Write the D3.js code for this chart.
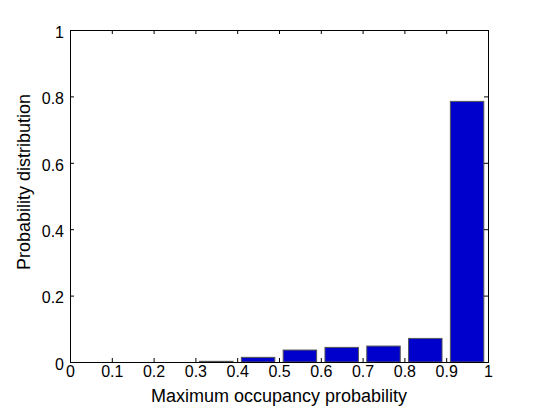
<!DOCTYPE html>
<html>
<head>
<meta charset="utf-8">
<script src="https://cdn.jsdelivr.net/npm/d3@7"></script>
<style>
  body { margin: 0; background: #fff; }
  text { font-family: "Liberation Sans", Arial, sans-serif; fill: #000; }
</style>
</head>
<body>
<div id="chart"></div>
<script>
// bin centres and probability of each bin
const binCenters = [0.05, 0.15, 0.25, 0.35, 0.45, 0.55, 0.65, 0.75, 0.85, 0.95];
const probs = [0, 0, 0, 0.002, 0.014, 0.036, 0.044, 0.048, 0.071, 0.785];
const xTicks = [0, 0.1, 0.2, 0.3, 0.4, 0.5, 0.6, 0.7, 0.8, 0.9, 1];
const yTicks = [0, 0.2, 0.4, 0.6, 0.8, 1];

const width = 539, height = 407;
const margin = {top: 30, right: 51, bottom: 45, left: 70};
const w = width - margin.left - margin.right;
const h = height - margin.top - margin.bottom;

const svg = d3.select("#chart").append("svg")
    .attr("width", width)
    .attr("height", height);

const g = svg.append("g")
    .attr("transform", "translate(" + margin.left + "," + margin.top + ")");

const x = d3.scaleLinear().domain([0, 1]).range([0, w]);
const y = d3.scaleLinear().domain([0, 1]).range([h, 0]);

const barW = (x(0.1) - x(0)) * 0.8;

g.selectAll("rect.bar")
    .data(probs.map((p, i) => ({c: binCenters[i], p: p})).filter(d => d.p > 0))
    .enter()
    .append("rect")
    .attr("class", "bar")
    .attr("x", d => x(d.c) - barW / 2)
    .attr("y", d => y(d.p))
    .attr("width", barW)
    .attr("height", d => y(0) - y(d.p))
    .attr("fill", "#0000cc")
    .attr("stroke", "#555")
    .attr("stroke-width", 1);

// axes, matlab style ticks pointing inwards
const fs = "16px";
const xAxis = g.append("g").attr("transform", "translate(0," + h + ")")
    .call(d3.axisBottom(x).tickValues(xTicks).tickSize(-4).tickPadding(4).tickFormat(d3.format("")));
const yAxis = g.append("g")
    .call(d3.axisLeft(y).tickValues(yTicks).tickSize(-4).tickPadding(6).tickFormat(d3.format("")));
const xTop = g.append("g")
    .call(d3.axisTop(x).tickValues(xTicks).tickSize(-4).tickFormat(""));
const yRight = g.append("g").attr("transform", "translate(" + w + ",0)")
    .call(d3.axisRight(y).tickValues(yTicks).tickSize(-4).tickFormat(""));

[xAxis, yAxis, xTop, yRight].forEach(a => {
    a.select(".domain").attr("stroke", "#000");
    a.selectAll(".tick line").attr("stroke", "#000");
    a.selectAll("text").style("font-size", fs).attr("font-family", null);
});
xAxis.selectAll("text").attr("dy", "0.71em");
yAxis.selectAll("text").attr("dy", "0.45em");

g.append("text")
    .attr("x", w / 2)
    .attr("y", h + 40)
    .attr("text-anchor", "middle")
    .style("font-size", "18px")
    .text("Maximum occupancy probability");

g.append("text")
    .attr("transform", "rotate(-90)")
    .attr("x", -152)
    .attr("y", -40)
    .attr("text-anchor", "middle")
    .style("font-size", "18px")
    .text("Probability distribution");
</script>
</body>
</html>
